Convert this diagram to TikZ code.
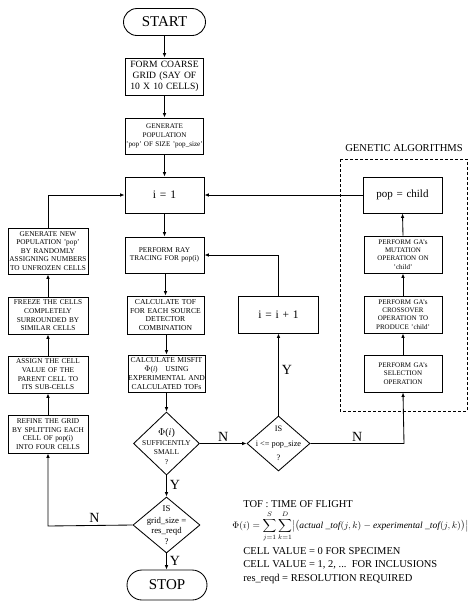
\documentclass[tikz,border=0pt]{standalone}
\usepackage{fontspec}
\setmainfont{Liberation Serif}
\usepackage{graphicx}
\usetikzlibrary{shapes.geometric,shapes.misc,arrows.meta}
\begin{document}
\begin{tikzpicture}[x=1pt,y=-1pt,
  line width=0.85pt,
  every node/.style={inner sep=0pt},
  box/.style={draw, rectangle, align=center, font=\fontsize{7.3}{8.6}\selectfont},
  gabox/.style={box, font=\fontsize{7}{8.3}\selectfont, text width=78pt, minimum height=37pt},
  leftbox/.style={box, text width=80pt},
  term/.style={draw, rounded rectangle, font=\fontsize{15}{17}\selectfont},
  dec/.style={draw, diamond},
  dtext/.style={align=center, font=\fontsize{8.5}{11}\selectfont},
  arr/.style={-{Latex[length=4.5pt,width=3.6pt]}},
  lab/.style={font=\fontsize{14}{16}\selectfont},
  legend/.style={anchor=west, font=\fontsize{10.5}{12}\selectfont},
  gadash/.style={draw, dashed, dash pattern=on 3pt off 2pt, line width=0.85pt},
]
\useasboundingbox (0,0) rectangle (474,611);

% main column
\node[term, minimum width=82pt, minimum height=27pt] (start) at (164.5,22) {START};
\node[box, text width=78pt, minimum height=37pt, font=\fontsize{9.6}{11}\selectfont] (form) at (164.5,76.5) {FORM COARSE\\GRID (SAY OF\\10 X 10 CELLS)};
\node[box, text width=78pt, minimum height=36pt, font=\fontsize{7.1}{8.8}\selectfont] (gen) at (164.5,136) {GENERATE\\POPULATION\\'pop' OF SIZE 'pop\_size'};
\node[box, text width=79pt, minimum height=36pt, font=\fontsize{11.5}{13}\selectfont] (i1) at (164.5,195) {i = 1};
\node[box, text width=79pt, minimum height=36pt] (ray) at (164.5,255) {PERFORM RAY\\TRACING FOR pop(i)};
\node[box, text width=77pt, minimum height=38pt, font=\fontsize{7.6}{8.9}\selectfont] (tof) at (165.5,315) {CALCULATE TOF\\FOR EACH SOURCE\\DETECTOR\\COMBINATION};
\node[box, text width=77pt, minimum height=37pt, font=\fontsize{7.6}{8.9}\selectfont] (misfit) at (166.5,373.5) {CALCULATE MISFIT\\$\Phi$(\textit{i})~~~USING\\EXPERIMENTAL AND\\CALCULATED TOFs};
\node[dec, minimum width=66pt, minimum height=63pt] (d1) at (166.5,443.5) {};
\node[dtext] (d1t) at (166.5,447) {{\fontsize{10}{11}\selectfont $\Phi$(\textit{i})}\\[-1pt]{\fontsize{7.4}{9}\selectfont SUFFICENTLY}\\[-2pt]{\fontsize{7.4}{9}\selectfont SMALL}\\[-1pt]{\fontsize{7.4}{9}\selectfont ?}};
\node[dec, minimum width=67pt, minimum height=56pt] (d2) at (166.5,525) {};
\node[dtext, font=\fontsize{8.8}{10.5}\selectfont] (d2t) at (166.5,525) {IS\\[1pt]grid\_size =\\res\_reqd\\?};
\node[term, minimum width=80pt, minimum height=30pt] (stop) at (167,585) {STOP};

% left column
\node[leftbox, minimum height=46pt] (gnew) at (48,251) {GENERATE NEW\\POPULATION 'pop'\\BY RANDOMLY\\ASSIGNING NUMBERS\\TO UNFROZEN CELLS};
\node[leftbox, minimum height=37pt] (freeze) at (48,315.5) {FREEZE THE CELLS\\COMPLETELY\\SURROUNDED BY\\SIMILAR CELLS};
\node[leftbox, minimum height=37pt] (assign) at (48,374.5) {ASSIGN THE CELL\\VALUE OF THE\\PARENT CELL TO\\ITS SUB-CELLS};
\node[leftbox, minimum height=38pt] (refine) at (48,434) {REFINE THE GRID\\BY SPLITTING EACH\\CELL OF pop(i)\\INTO FOUR CELLS};

% middle right column
\node[box, text width=80pt, minimum height=37pt, font=\fontsize{11.5}{13}\selectfont] (inc) at (278.5,314.5) {i = i + 1};
\node[dec, minimum width=63pt, minimum height=55pt] (d3) at (278.5,443.5) {};
\node[dtext, font=\fontsize{8.3}{14.5}\selectfont] (d3t) at (278.5,443.5) {IS\\i <= pop\_size\\?};

% GA column
\node[box, text width=79pt, minimum height=36pt, font=\fontsize{11}{13}\selectfont] (popc) at (402.5,195) {pop = child};
\node[gabox] (mut) at (403,254.5) {PERFORM GA's\\MUTATION\\OPERATION ON\\'child'};
\node[gabox] (cross) at (403,314.5) {PERFORM GA's\\CROSSOVER\\OPERATION TO\\PRODUCE 'child'};
\node[gabox] (sel) at (403,373.5) {PERFORM GA's\\SELECTION\\OPERATION};
\draw[gadash] (340,159) rectangle (467,411);
\node[font=\fontsize{10.6}{12}\selectfont] (galab) at (404,148) {GENETIC ALGORITHMS};

% coordinates for bends
\coordinate (cgn) at (48,195);
\coordinate (cd2) at (48,526);
\coordinate (cinc) at (278.5,255);
\coordinate (cd3) at (404,443.5);

% main flow
\draw[arr] (start.south) -- (start.south |- form.north);
\draw[arr] (form.south) -- (form.south |- gen.north);
\draw[arr] (gen.south) -- (gen.south |- i1.north);
\draw[arr] (i1.south) -- (i1.south |- ray.north);
\draw[arr] (ray.south -| tof.north) -- (tof.north);
\draw[arr] (tof.south -| misfit.north) -- (misfit.north);
\draw[arr] (misfit.south -| d1.north) -- (d1.north);
\draw[arr] (d1.south) -- node[lab, right=3pt, pos=0.45] (y1) {Y} (d2.north);
\draw[arr] (d2.south) -- node[lab, right=3pt, pos=0.45] (y2) {Y} (d2.south |- stop.north);

% left loop
\draw[arr] (d2.west) -- node[lab, above=3pt, pos=0.45] (n2) {N} (cd2) -- (refine.south);
\draw[arr] (refine.north) -- (assign.south);
\draw[arr] (assign.north) -- (freeze.south);
\draw[arr] (freeze.north) -- (gnew.south);
\draw[arr] (gnew.north) -- (cgn) -- (i1.west);

% middle loop
\draw[arr] (d1.east) -- node[lab, above=2pt] (n1) {N} (d3.west);
\draw[arr] (d3.north) -- node[lab, right=3pt, pos=0.55] (y3) {Y} (inc.south);
\draw[arr] (inc.north) -- (cinc) -- (ray.east);

% GA loop
\draw[arr] (d3.east) -- node[lab, above=2pt] (n3) {N} (cd3) -- (sel.south);
\draw[arr] (sel.north) -- (cross.south);
\draw[arr] (cross.north) -- (mut.south);
\draw[arr] (mut.north) -- (popc.south);
\draw[arr] (popc.west) -- (i1.east);

% legend
\node[legend] (l1) at (243,504) {TOF : TIME OF FLIGHT};
\node[anchor=west] (l2) at (232,526.5) {\resizebox{236pt}{17pt}{$\Phi(i)=\displaystyle\sum_{j=1}^{S}\sum_{k=1}^{D}\bigl|\bigl(\mathit{actual}\ \_\mathit{tof}(j,k)-\mathit{experimental}\ \_\mathit{tof}(j,k)\bigr)\bigr|$}};
\node[legend] (l3) at (243,551) {CELL VALUE = 0 FOR SPECIMEN};
\node[legend] (l4) at (243,565) {CELL VALUE = 1, 2, ...~~FOR INCLUSIONS};
\node[legend] (l5) at (243,578.5) {res\_reqd = RESOLUTION REQUIRED};
\end{tikzpicture}
\end{document}
